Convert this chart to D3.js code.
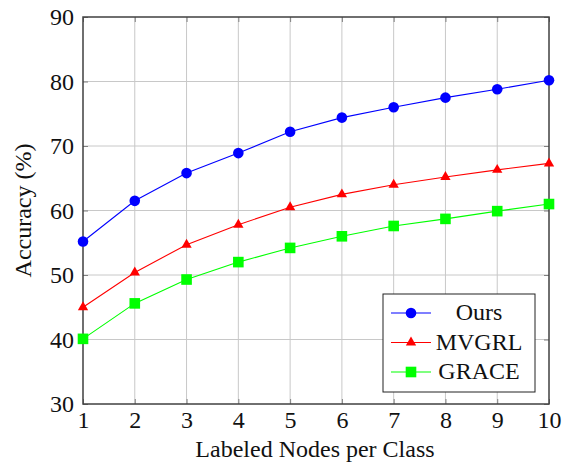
<!DOCTYPE html>
<html><head><meta charset="utf-8">
<script src="https://cdn.jsdelivr.net/npm/d3@7"></script>
<style>body{margin:0;background:#fff;}svg{display:block;} svg text{font-family:"Liberation Serif","Times New Roman","DejaVu Serif",serif !important;}</style>
</head><body>
<svg id="chart" width="563" height="463"></svg>
<script>
const xValues = [1,2,3,4,5,6,7,8,9,10];
const oursValues = [55.2,61.5,65.8,68.9,72.2,74.4,76.0,77.5,78.8,80.2];
const mvgrlValues = [45.0,50.4,54.7,57.8,60.5,62.5,64.0,65.2,66.3,67.3];
const graceValues = [40.1,45.6,49.3,52.0,54.2,56.0,57.6,58.7,59.9,61.0];
const seriesNames = ["Ours","MVGRL","GRACE"];
const yTicks = [30,40,50,60,70,80,90];
const xTicks = [1,2,3,4,5,6,7,8,9,10];

const series = [
  {name: seriesNames[0], values: oursValues, color: "#0000ff", marker: "circle"},
  {name: seriesNames[1], values: mvgrlValues, color: "#ff0000", marker: "triangle"},
  {name: seriesNames[2], values: graceValues, color: "#00ff00", marker: "square"}
];

const svg = d3.select("#chart");
const L = 83, R = 549, T = 17, B = 404;
const x = d3.scaleLinear().domain([1,10]).range([L,R]);
const y = d3.scaleLinear().domain([30,90]).range([B,T]);
const axisColor = "#404040";
const FS = 24;

// grid
const g = svg.append("g");
g.selectAll(".vg").data(xTicks.slice(1,-1)).enter().append("line")
  .attr("x1", d=>x(d)).attr("x2", d=>x(d)).attr("y1", T).attr("y2", B)
  .attr("stroke", "#c8c8c8").attr("stroke-width", 1);
g.selectAll(".hg").data(yTicks.slice(1,-1)).enter().append("line")
  .attr("y1", d=>y(d)).attr("y2", d=>y(d)).attr("x1", L).attr("x2", R)
  .attr("stroke", "#c8c8c8").attr("stroke-width", 1);

// axes via d3 axis (ticks inward)
const xAxisB = d3.axisBottom(x).tickValues(xTicks).tickSize(-5).tickPadding(7).tickFormat(d3.format("d"));
const xAxisT = d3.axisTop(x).tickValues(xTicks).tickSize(-5).tickFormat("");
const yAxisL = d3.axisLeft(y).tickValues(yTicks).tickSize(-5).tickPadding(9).tickFormat(d3.format("d"));
const yAxisR = d3.axisRight(y).tickValues(yTicks).tickSize(-5).tickFormat("");

function styleAxis(sel){
  sel.attr("font-family", null).attr("font-size", null);
  sel.selectAll("path").remove();
  sel.selectAll("line").attr("stroke", "#808080").attr("stroke-width", 1);
  sel.selectAll("text").style("font-size", FS+"px").attr("fill", "#111");
}
svg.append("g").attr("transform", `translate(0,${B})`).call(xAxisB).call(styleAxis);
svg.append("g").attr("transform", `translate(0,${T})`).call(xAxisT).call(styleAxis);
svg.append("g").attr("transform", `translate(${L},0)`).call(yAxisL).call(styleAxis);
svg.append("g").attr("transform", `translate(${R},0)`).call(yAxisR).call(styleAxis);

// frame
svg.append("rect").attr("x", L).attr("y", T).attr("width", R-L).attr("height", B-T)
  .attr("fill", "none").attr("stroke", axisColor).attr("stroke-width", 1.5);

// series
const line = d3.line().x((d,i)=>x(xValues[i])).y(d=>y(d));
function drawMarker(sel, type, color, cx, cy){
  if (type === "circle") {
    sel.append("circle").attr("cx", cx).attr("cy", cy).attr("r", 5.3).attr("fill", color);
  } else if (type === "triangle") {
    sel.append("path").attr("d", d3.symbol().type(d3.symbolTriangle).size(46)())
      .attr("transform", `translate(${cx},${cy})`).attr("fill", color);
  } else {
    sel.append("rect").attr("x", cx-5.3).attr("y", cy-5.3).attr("width", 10.6).attr("height", 10.6).attr("fill", color);
  }
}
series.forEach(s => {
  const sg = svg.append("g");
  sg.append("path").datum(s.values).attr("d", line).attr("fill", "none")
    .attr("stroke", s.color).attr("stroke-width", 1.1);
  s.values.forEach((v,i) => drawMarker(sg, s.marker, s.color, x(xValues[i]), y(v)));
});

// legend
const lg = svg.append("g");
lg.append("rect").attr("x", 383).attr("y", 294).attr("width", 152).attr("height", 98)
  .attr("fill", "#fff").attr("stroke", "#222").attr("stroke-width", 1);
series.forEach((s,i) => {
  const ly = 313 + i*29.5;
  lg.append("line").attr("x1", 391).attr("x2", 431).attr("y1", ly).attr("y2", ly)
    .attr("stroke", s.color).attr("stroke-width", 1.1);
  drawMarker(lg, s.marker, s.color, 411, ly);
  lg.append("text").attr("x", 479).attr("y", ly).attr("dy", "0.3em")
    .attr("text-anchor", "middle").style("font-size", FS+"px")
    .attr("fill", "#111").text(s.name);
});

// axis labels
svg.append("text").attr("x", (L+R)/2 - 1).attr("y", 457).attr("text-anchor", "middle")
  .style("font-size", FS+"px").attr("fill", "#111").text("Labeled Nodes per Class");
svg.append("text").attr("transform", `translate(31,${(T+B)/2}) rotate(-90)`).attr("text-anchor", "middle")
  .style("font-size", FS+"px").attr("fill", "#111").text("Accuracy (%)");
</script>
</body></html>
